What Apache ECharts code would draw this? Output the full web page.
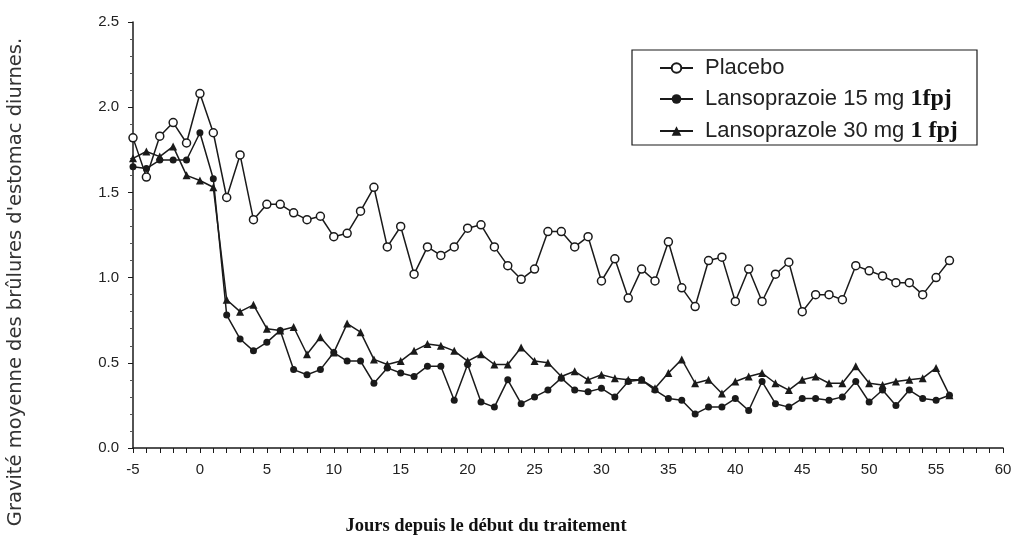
<!DOCTYPE html>
<html>
<head>
<meta charset="utf-8">
<script src="https://cdn.jsdelivr.net/npm/echarts@6/dist/echarts.min.js"></script>
<style>
  html, body { margin: 0; padding: 0; background: #fff; }
  #chart { width: 1021px; height: 541px; }
</style>
</head>
<body>
<div id="chart"></div>
<script>
// jours depuis le début du traitement
var days = [];
for (var d = -5; d <= 56; d++) days.push(d);

var placebo = [
  1.82, 1.59, 1.83, 1.91, 1.79, 2.08, 1.85, 1.47, 1.72, 1.34,
  1.43, 1.43, 1.38, 1.34, 1.36, 1.24, 1.26, 1.39, 1.53, 1.18,
  1.30, 1.02, 1.18, 1.13, 1.18, 1.29, 1.31, 1.18, 1.07, 0.99,
  1.05, 1.27, 1.27, 1.18, 1.24, 0.98, 1.11, 0.88, 1.05, 0.98,
  1.21, 0.94, 0.83, 1.10, 1.12, 0.86, 1.05, 0.86, 1.02, 1.09,
  0.80, 0.90, 0.90, 0.87, 1.07, 1.04, 1.01, 0.97, 0.97, 0.90,
  1.00, 1.10
];
var lanso15 = [
  1.65, 1.64, 1.69, 1.69, 1.69, 1.85, 1.58, 0.78, 0.64, 0.57,
  0.62, 0.69, 0.46, 0.43, 0.46, 0.56, 0.51, 0.51, 0.38, 0.47,
  0.44, 0.42, 0.48, 0.48, 0.28, 0.49, 0.27, 0.24, 0.40, 0.26,
  0.30, 0.34, 0.41, 0.34, 0.33, 0.35, 0.30, 0.39, 0.40, 0.34,
  0.29, 0.28, 0.20, 0.24, 0.24, 0.29, 0.22, 0.39, 0.26, 0.24,
  0.29, 0.29, 0.28, 0.30, 0.39, 0.27, 0.34, 0.25, 0.34, 0.29,
  0.28, 0.31
];
var lanso30 = [
  1.70, 1.74, 1.71, 1.77, 1.60, 1.57, 1.53, 0.87, 0.80, 0.84,
  0.70, 0.69, 0.71, 0.55, 0.65, 0.56, 0.73, 0.68, 0.52, 0.49,
  0.51, 0.57, 0.61, 0.60, 0.57, 0.51, 0.55, 0.49, 0.49, 0.59,
  0.51, 0.50, 0.42, 0.45, 0.40, 0.43, 0.41, 0.40, 0.40, 0.35,
  0.44, 0.52, 0.38, 0.40, 0.32, 0.39, 0.42, 0.44, 0.38, 0.34,
  0.40, 0.42, 0.38, 0.38, 0.48, 0.38, 0.37, 0.39, 0.40, 0.41,
  0.47, 0.31
];
var seriesNames = ['Placebo', 'Lansoprazoie 15 mg 1fpj', 'Lansoprazole 30 mg 1 fpj'];

function pairs(vals) {
  return days.map(function(x, i) { return [x, vals[i]]; });
}

var ink = '#1a1a1a';
var chart = echarts.init(document.getElementById('chart'));

chart.setOption({
  backgroundColor: '#fff',
  animation: false,
  grid: { left: 133, right: 18, top: 22, bottom: 93 },
  xAxis: {
    type: 'value',
    min: -5,
    max: 60,
    interval: 5,
    axisLine: { onZero: false, lineStyle: { color: ink, width: 1.5 } },
    axisTick: { inside: false, length: 5, lineStyle: { color: ink } },
    minorTick: { show: true, splitNumber: 5, length: 5, lineStyle: { color: ink } },
    splitLine: { show: false },
    axisLabel: { color: '#222', fontSize: 15, fontFamily: 'Liberation Sans, Arial', margin: 14 }
  },
  yAxis: {
    type: 'value',
    min: 0,
    max: 2.5,
    interval: 0.5,
    axisLine: { show: true, onZero: false, lineStyle: { color: ink, width: 1.5 } },
    axisTick: { show: true, length: 5, lineStyle: { color: ink } },
    minorTick: { show: true, splitNumber: 5, length: 3, lineStyle: { color: '#555' } },
    splitLine: { show: false },
    axisLabel: {
      color: '#222', fontSize: 15, fontFamily: 'Liberation Sans, Arial', margin: 14,
      formatter: function(v) { return v.toFixed(1); }
    }
  },
  legend: {
    orient: 'vertical',
    left: 654,
    top: 52,
    itemWidth: 33,
    itemHeight: 12,
    itemGap: 8,
    data: seriesNames,
    textStyle: {
      color: '#222', fontSize: 22, lineHeight: 22, fontFamily: 'Liberation Sans, Arial',
      padding: [0, 0, 0, 7],
      rich: { b: { fontFamily: 'Liberation Serif, serif', fontWeight: 'bold', fontSize: 24, lineHeight: 22, color: '#111' } }
    },
    formatter: function(name) {
      return name.replace(/ (1 ?fpj)$/, ' {b|$1}');
    }
  },
  graphic: [
    {
      type: 'rect',
      shape: { x: 632, y: 50, width: 345, height: 95 },
      style: { fill: 'none', stroke: ink, lineWidth: 1.2 }
    },
    {
      type: 'text',
      x: 16,
      y: 282,
      rotation: Math.PI / 2,
      style: {
        text: "Gravité moyenne des brûlures d'estomac diurnes.",
        fill: '#333',
        font: '19.5px "DejaVu Sans", Arial',
        textAlign: 'center',
        textVerticalAlign: 'middle'
      }
    },
    {
      type: 'text',
      x: 486,
      y: 526,
      style: {
        text: 'Jours depuis le début du traitement',
        fill: '#111',
        font: 'bold 18.5px "Liberation Serif", serif',
        textAlign: 'center',
        textVerticalAlign: 'middle'
      }
    }
  ],
  series: [
    {
      name: seriesNames[0],
      type: 'line',
      data: pairs(placebo),
      symbol: 'circle',
      symbolSize: 8,
      showAllSymbol: true,
      lineStyle: { color: ink, width: 1.5 },
      itemStyle: { color: '#fff', borderColor: ink, borderWidth: 1.5 },
      z: 3
    },
    {
      name: seriesNames[1],
      type: 'line',
      data: pairs(lanso15),
      symbol: 'circle',
      symbolSize: 7,
      showAllSymbol: true,
      lineStyle: { color: ink, width: 1.5 },
      itemStyle: { color: ink, borderColor: ink, borderWidth: 0 },
      z: 2
    },
    {
      name: seriesNames[2],
      type: 'line',
      data: pairs(lanso30),
      symbol: 'triangle',
      symbolSize: 8,
      showAllSymbol: true,
      lineStyle: { color: ink, width: 1.5 },
      itemStyle: { color: ink, borderColor: ink, borderWidth: 0 },
      z: 2
    }
  ]
});
</script>
</body>
</html>
